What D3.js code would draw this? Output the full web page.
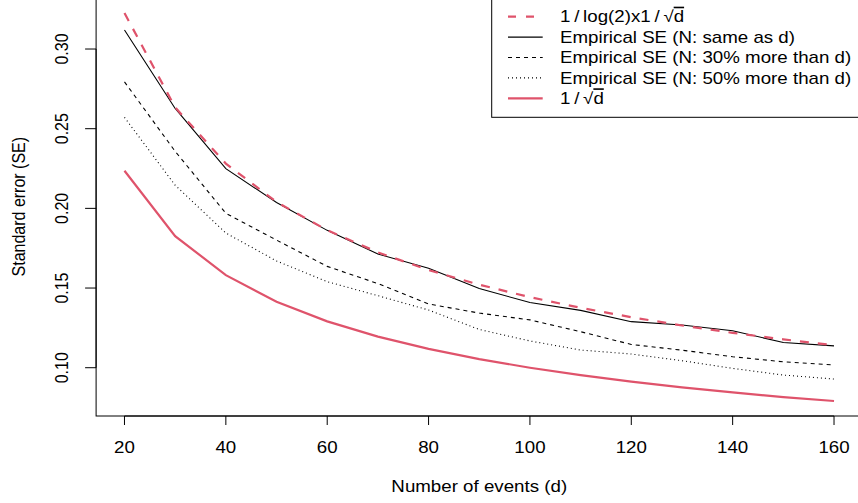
<!DOCTYPE html>
<html>
<head>
<meta charset="utf-8">
<script src="https://cdn.jsdelivr.net/npm/d3@7"></script>
<style>
  body { margin: 0; background: #fff; }
  text { font-family: "Liberation Sans", Arial, sans-serif; font-size: 16px; fill: #000; }
</style>
</head>
<body>
<div id="chart"></div>
<script>
var events = [20, 30, 40, 50, 60, 70, 80, 90, 100, 110, 120, 130, 140, 150, 160];
var theoryLog2 = [0.3226, 0.2634, 0.2281, 0.2040, 0.1863, 0.1724, 0.1613, 0.1521, 0.1443, 0.1376, 0.1317, 0.1265, 0.1219, 0.1178, 0.1141];
var empSame = [0.3119, 0.2627, 0.2249, 0.2037, 0.1862, 0.1713, 0.1624, 0.1497, 0.1409, 0.1360, 0.1289, 0.1268, 0.1232, 0.1158, 0.1137];
var emp30 = [0.2794, 0.2358, 0.1969, 0.1801, 0.1636, 0.1528, 0.1400, 0.1343, 0.1300, 0.1226, 0.1146, 0.1110, 0.1069, 0.1037, 0.1017];
var emp50 = [0.2571, 0.2145, 0.1845, 0.1670, 0.1540, 0.1452, 0.1362, 0.1240, 0.1168, 0.1111, 0.1086, 0.1044, 0.0996, 0.0954, 0.0929];
var theorySqrt = [0.2236, 0.1826, 0.1581, 0.1414, 0.1291, 0.1195, 0.1118, 0.1054, 0.1000, 0.0953, 0.0913, 0.0877, 0.0845, 0.0816, 0.0791];
var xTicks = [20, 40, 60, 80, 100, 120, 140, 160];
var yTicks = [0.10, 0.15, 0.20, 0.25, 0.30];
var legendLabels = ["Empirical SE (N: same as d)", "Empirical SE (N: 30% more than d)", "Empirical SE (N: 50% more than d)"];

(function() {
    var width = 858, height = 503;
    var left = 96.1, right = 862.4, top = -2.6, bottom = 416;
    var red = "#DF536B";
    var sx = 1.17; // text is wider than tall in the picture

    var svg = d3.select("#chart")
        .append("svg")
        .attr("width", width)
        .attr("height", height);

    var x = d3.scaleLinear().domain([14.4, 165.6]).range([left, right]);
    var y = d3.scaleLinear().domain([0.0697, 0.3324]).range([bottom, top]);

    // lines
    var series = [
        {v: empSame, color: "#000", w: 1.1, dash: null},
        {v: emp30, color: "#000", w: 1.1, dash: "4,4"},
        {v: emp50, color: "#000", w: 1.1, dash: "1,3"},
        {v: theorySqrt, color: red, w: 2.2, dash: null},
        {v: theoryLog2, color: red, w: 2.2, dash: "9,9"}
    ];

    var line = d3.line()
        .x(function(d, i) { return x(events[i]); })
        .y(function(d) { return y(d); });

    svg.selectAll("path.series")
        .data(series)
        .enter().append("path")
        .attr("class", "series")
        .attr("d", function(s) { return line(s.v); })
        .attr("fill", "none")
        .attr("stroke", function(s) { return s.color; })
        .attr("stroke-width", function(s) { return s.w; })
        .attr("stroke-dasharray", function(s) { return s.dash; });

    // box
    svg.append("rect")
        .attr("x", left).attr("y", top)
        .attr("width", right - left).attr("height", bottom - top)
        .attr("fill", "none").attr("stroke", "#000").attr("stroke-width", 1);

    // x axis
    svg.append("line")
        .attr("x1", x(20)).attr("x2", x(160))
        .attr("y1", bottom).attr("y2", bottom)
        .attr("stroke", "#000");
    svg.selectAll("line.xt")
        .data(xTicks)
        .enter().append("line")
        .attr("class", "xt")
        .attr("x1", function(d) { return x(d); })
        .attr("x2", function(d) { return x(d); })
        .attr("y1", bottom).attr("y2", bottom + 9)
        .attr("stroke", "#000");
    svg.selectAll("text.xl")
        .data(xTicks)
        .enter().append("text")
        .attr("class", "xl")
        .attr("text-anchor", "middle")
        .attr("transform", function(d) { return "translate(" + x(d) + ",452.7) scale(" + sx + ",1)"; })
        .text(function(d) { return d; });

    // y axis
    svg.append("line")
        .attr("x1", left).attr("x2", left)
        .attr("y1", y(0.10)).attr("y2", y(0.30))
        .attr("stroke", "#000");
    svg.selectAll("line.yt")
        .data(yTicks)
        .enter().append("line")
        .attr("class", "yt")
        .attr("x1", left - 11).attr("x2", left)
        .attr("y1", function(d) { return y(d); })
        .attr("y2", function(d) { return y(d); })
        .attr("stroke", "#000");
    svg.selectAll("text.yl")
        .data(yTicks)
        .enter().append("text")
        .attr("class", "yl")
        .attr("text-anchor", "middle")
        .attr("transform", function(d) { return "translate(68.3," + y(d) + ") scale(" + sx + ",1) rotate(-90)"; })
        .text(function(d) { return d3.format(".2f")(d); });

    // axis titles
    svg.append("text")
        .attr("text-anchor", "middle")
        .attr("transform", "translate(" + ((left + right) / 2) + ",491.7) scale(" + sx + ",1)")
        .text("Number of events (d)");
    svg.append("text")
        .attr("text-anchor", "middle")
        .attr("transform", "translate(24.5," + ((top + bottom) / 2) + ") scale(" + sx + ",1) rotate(-90)")
        .text("Standard error (SE)");

    // legend
    var lg = svg.append("g");
    lg.append("rect")
        .attr("x", 491.7).attr("y", top)
        .attr("width", right - 491.7).attr("height", 117.3 - top)
        .attr("fill", "#fff").attr("stroke", "#000").attr("stroke-width", 1);

    var rows = [
        {color: red, w: 2.2, dash: "8,10"},
        {color: "#000", w: 1.1, dash: null},
        {color: "#000", w: 1.1, dash: "4,4"},
        {color: "#000", w: 1.1, dash: "1,3"},
        {color: red, w: 2.2, dash: null}
    ];
    var rowY = function(i) { return 16.7 + i * 20.4; };

    lg.selectAll("line.key")
        .data(rows)
        .enter().append("line")
        .attr("class", "key")
        .attr("x1", 508).attr("x2", 542.7)
        .attr("y1", function(d, i) { return rowY(i); })
        .attr("y2", function(d, i) { return rowY(i); })
        .attr("stroke", function(d) { return d.color; })
        .attr("stroke-width", function(d) { return d.w; })
        .attr("stroke-dasharray", function(d) { return d.dash; });

    function legendText(i) {
        return lg.append("text")
            .attr("transform", "translate(560," + (rowY(i) + 5.6) + ") scale(" + sx + ",1)");
    }

    var t0 = legendText(0);
    t0.append("tspan").text("1\u2009/\u2009log(2)x1\u2009/\u2009\u221a");
    t0.append("tspan").style("text-decoration", "overline").text("d");

    legendLabels.forEach(function(lab, k) {
        legendText(k + 1).text(lab);
    });

    var t4 = legendText(4);
    t4.append("tspan").text("1\u2009/\u2009\u221a");
    t4.append("tspan").style("text-decoration", "overline").text("d");
})();
</script>
</body>
</html>
